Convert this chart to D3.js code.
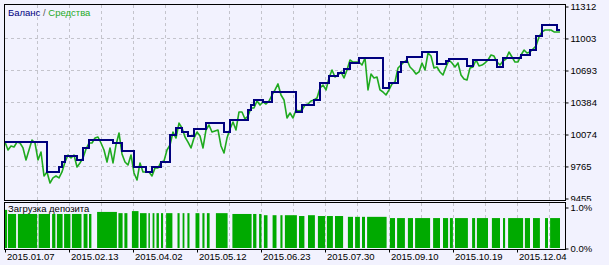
<!DOCTYPE html>
<html><head><meta charset="utf-8">
<script src="https://cdn.jsdelivr.net/npm/d3@7"></script>
<style>
html,body{margin:0;padding:0;background:#F2F2FE;}
svg{display:block;}
text{font-family:"Liberation Sans",Arial,sans-serif;font-size:9.5px;}
</style></head>
<body><svg id="c" width="609" height="265"></svg>
<script>
// ---- data ----
const dateLabels = ["2015.01.07","2015.02.13","2015.04.02","2015.05.12","2015.06.23","2015.07.30","2015.09.10","2015.10.19","2015.12.04"];
const yTicks = [9455, 9765, 10074, 10384, 10693, 11003, 11312];
const pctTicks = [0, 1];
const pctLabels = ["0.0%", "1.0%"];
const equity = [
 9996,9919,9958,9948,9996,9987,9939,9823,9919,10016,
 9987,9823,9900,9668,9707,9600,9649,9668,9649,9707,
 9803,9871,9842,9871,9755,9794,9842,9929,9987,9987,
 10035,10045,9987,9919,9803,9939,9794,9968,10084,9881,
 9803,9774,9871,9697,9629,9794,9707,9707,9707,9668,
 9745,9745,9803,9813,9919,9968,10093,10035,10180,10132,
 10045,9996,9939,10035,10093,10055,9939,10113,10161,10093,
 10103,10113,9958,9890,10035,10122,10190,10113,10287,10287,
 10219,10248,10326,10326,10393,10354,10384,10364,10393,10451,
 10500,10558,10451,10403,10229,10277,10229,10306,10296,10306,
 10354,10364,10393,10403,10422,10519,10548,10500,10616,10693,
 10625,10645,10674,10616,10693,10790,10770,10770,10770,10741,
 10809,10500,10654,10616,10625,10500,10480,10451,10500,10558,
 10577,10712,10741,10770,10790,10722,10693,10654,10674,10761,
 10693,10857,10828,10712,10722,10674,10645,10722,10790,10761,
 10722,10761,10645,10606,10596,10712,10722,10790,10732,10741,
 10761,10790,10838,10828,10770,10741,10780,10799,10867,10819,
 10770,10770,10838,10886,10857,10867,10896,10925,11012,11061,
 11080,11080,11080,11061,11061,11061
];
const balanceIdx = [0,14,18,19,20,24,26,28,36,39,43,47,49,52,55,57,59,61,63,67,73,75,81,82,83,86,89,97,99,103,105,108,111,113,115,118,126,128,131,132,134,139,144,147,148,154,156,164,166,172,175,177,179,184,185];
const balanceVal = [9996,9707,9755,9803,9861,9823,9939,10016,9987,9910,9755,9707,9755,9803,10064,10132,10093,10055,10122,10180,10093,10209,10306,10354,10403,10384,10480,10287,10354,10403,10567,10635,10664,10703,10761,10809,10519,10567,10674,10770,10819,10867,10751,10780,10799,10732,10790,10722,10809,10838,10886,11022,11128,11080,11080];
// deposit load runs: [fromTrade, toTrade, percent]
const loadRuns = [
 [0,0.7,0.93],[1.0,3.7,0.83],[4.3,10.7,0.83],[11.2,15.0,0.83],[15.7,16.8,0.83],[17.3,19.2,0.83],
 [19.7,21.8,0.83],[22.3,25.5,0.83],[26.2,27.5,0.83],[28.0,28.8,0.83],[30.7,37.3,0.88],[37.8,39.2,0.85],
 [39.8,40.8,0.85],[42.3,44.5,0.90],[45.0,47.2,0.85],[47.8,48.3,0.85],[49.2,49.8,0.85],[50.5,51.3,0.85],
 [52.0,52.7,0.85],[53.7,55.8,0.85],[57.5,58.2,0.85],[59.2,59.8,0.85],[60.8,61.5,0.85],[63.5,64.8,0.85],
 [65.8,66.5,0.85],[67.3,68.2,0.85],[70.3,74.2,0.85],[75.8,82.2,0.83],[82.7,83.8,0.83],[84.7,85.5,0.83],
 [86.3,87.5,0.80],[89.2,90.5,0.80],[91.8,92.5,0.80],[93.3,97.3,0.80],[98.0,99.8,0.78],[101.0,103.3,0.80],
 [104.3,106.7,0.78],[107.3,109.3,0.78],[110.0,112.7,0.78],[114.3,116.0,0.76],[116.7,118.3,0.76],[119.0,120.0,0.76],
 [120.7,127.2,0.76],[128.3,130.0,0.73],[130.7,133.3,0.73],[134.3,136.0,0.73],[136.7,141.7,0.73],[142.7,145.0,0.73],
 [146.0,147.7,0.73],[148.3,149.3,0.73],[150.0,154.3,0.73],[155.7,156.7,0.73],[157.3,161.0,0.73],[162.3,165.0,0.73],
 [166.0,166.7,0.73],[167.7,172.7,0.73],[173.3,175.0,0.73],[176.0,178.3,0.73],[180.0,181.0,0.73],[181.7,185.0,0.73]
];
const tradesPerLabel = 64/3;   // trades between date labels
const tradesPerGrid = 32/3;    // trades between vertical grid lines

// ---- layout ----
const L = 4, R = 565, mainTop = 4, mainBot = 200, subTop = 202, subBot = 249;
const svg = d3.select("#c");
const x = d3.scaleLinear().domain([0, equity.length - 1]).range([5, 560]);
const y = d3.scaleLinear().domain([9455, 11312]).range([198, 6]);
const yp = d3.scaleLinear().domain([0, 1]).range([248, 207]);

svg.append("defs").append("clipPath").attr("id", "mainAxisClip")
  .append("rect").attr("x", 0).attr("y", 0).attr("width", 609).attr("height", mainBot + 1);

const gridColor = "#C4C4CC";
// vertical grid
const gridIdx = d3.range(1, 18).map(k => k * tradesPerGrid);
svg.append("g").selectAll("line").data(gridIdx).join("line")
  .attr("x1", d => Math.round(x(d)) + 0.5).attr("x2", d => Math.round(x(d)) + 0.5)
  .attr("y1", mainTop + 1).attr("y2", subBot)
  .attr("stroke", gridColor).attr("stroke-dasharray", "3,3");
// horizontal grid
svg.append("g").selectAll("line").data(yTicks.slice(1, -1)).join("line")
  .attr("x1", L + 1).attr("x2", R)
  .attr("y1", d => Math.round(y(d)) + 0.5).attr("y2", d => Math.round(y(d)) + 0.5)
  .attr("stroke", gridColor).attr("stroke-dasharray", "3,3");

// load bars
svg.append("g").selectAll("rect").data(loadRuns).join("rect")
  .attr("x", d => x(d[0])).attr("width", d => Math.max(0.8, x(d[1]) - x(d[0])))
  .attr("y", d => yp(d[2])).attr("height", d => yp(0) - yp(d[2]))
  .attr("fill", "#00AA00");

// equity line
svg.append("path").datum(equity)
  .attr("d", d3.line().x((d, i) => x(i)).y(d => y(d)))
  .attr("fill", "none").attr("stroke", "#1FAA1F").attr("stroke-width", 1.6).attr("stroke-linejoin", "round");
// balance line
const bal = balanceIdx.map((d, i) => [d, balanceVal[i]]);
svg.append("path").datum(bal)
  .attr("d", d3.line().x(d => x(d[0])).y(d => y(d[1])).curve(d3.curveStepAfter))
  .attr("fill", "none").attr("stroke", "#00007E").attr("stroke-width", 2);

// panel borders
svg.append("rect").attr("x", L + 0.5).attr("y", mainTop + 0.5).attr("width", R - L).attr("height", mainBot - mainTop)
  .attr("fill", "none").attr("stroke", "#000");
svg.append("rect").attr("x", L + 0.5).attr("y", subTop + 0.5).attr("width", R - L).attr("height", subBot - subTop)
  .attr("fill", "none").attr("stroke", "#000");

// right axis (main panel; bottom label clipped by the lower panel as in the original)
const ay = svg.append("g").attr("clip-path", "url(#mainAxisClip)")
  .append("g").attr("transform", `translate(${R + 0.5},0.5)`)
  .call(d3.axisRight(y).tickValues(yTicks).tickSize(3).tickPadding(2).tickFormat(d3.format("d")));
ay.select(".domain").remove();
ay.selectAll("text").attr("font-size", "9.5px").attr("fill", "#000");

const ap = svg.append("g").attr("transform", `translate(${R + 0.5},0.5)`)
  .call(d3.axisRight(yp).tickValues(pctTicks).tickSize(3).tickPadding(2).tickFormat((d, i) => pctLabels[i]));
ap.select(".domain").remove();
ap.selectAll("text").attr("font-size", "9.5px").attr("fill", "#000");

// bottom axis
const labelIdx = dateLabels.map((d, i) => i * tradesPerLabel);
const ax = svg.append("g").attr("transform", `translate(0.5,${subBot + 0.5})`)
  .call(d3.axisBottom(x).tickValues(labelIdx).tickSize(3).tickPadding(1).tickFormat((d, i) => dateLabels[i]));
ax.select(".domain").remove();
ax.selectAll(".tick line").attr("transform", "translate(-0.5,0)").attr("x1", d => Math.round(x(d)) - x(d)).attr("x2", d => Math.round(x(d)) - x(d));
ax.selectAll("text").attr("text-anchor", "start").attr("x", 1).attr("font-size", "9.5px").attr("fill", "#000");

// legend
const lg = svg.append("text").attr("x", 8).attr("y", 16);
lg.append("tspan").attr("fill", "#00007E").text("Баланс");
lg.append("tspan").attr("fill", "#555").text(" / ");
lg.append("tspan").attr("fill", "#1FAA1F").text("Средства");

svg.append("text").attr("x", 8).attr("y", 212).attr("fill", "#000").text("Загрузка депозита");
</script></body></html>
